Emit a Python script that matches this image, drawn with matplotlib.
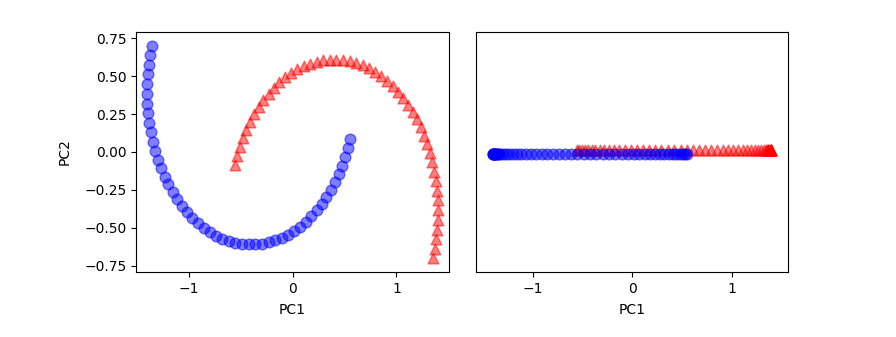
import matplotlib
matplotlib.use('Agg')
import matplotlib.pyplot as plt

# PCA projection of the half-moon data
red_pc1 = [-0.553, -0.531, -0.506, -0.476, -0.444, -0.407, -0.368, -0.325, -0.280, -0.231,
           -0.180, -0.127, -0.071, -0.014, 0.046, 0.106, 0.168, 0.231, 0.294, 0.358,
           0.422, 0.486, 0.550, 0.613, 0.675, 0.736, 0.796, 0.854, 0.910, 0.964,
           1.016, 1.065, 1.111, 1.155, 1.195, 1.232, 1.266, 1.296, 1.323, 1.345,
           1.364, 1.379, 1.390, 1.397, 1.399, 1.398, 1.392, 1.382, 1.369, 1.351]
red_pc2 = [-0.085, -0.024, 0.035, 0.092, 0.147, 0.200, 0.250, 0.298, 0.343, 0.385,
           0.424, 0.459, 0.491, 0.520, 0.544, 0.565, 0.582, 0.594, 0.603, 0.608,
           0.608, 0.605, 0.597, 0.585, 0.570, 0.550, 0.527, 0.499, 0.468, 0.434,
           0.396, 0.355, 0.311, 0.264, 0.214, 0.162, 0.107, 0.050, -0.008, -0.068,
           -0.129, -0.192, -0.255, -0.319, -0.383, -0.447, -0.511, -0.574, -0.637, -0.698]
blue_pc1 = [0.553, 0.531, 0.506, 0.476, 0.444, 0.407, 0.368, 0.325, 0.280, 0.231,
            0.180, 0.127, 0.071, 0.014, -0.046, -0.106, -0.168, -0.231, -0.294, -0.358,
            -0.422, -0.486, -0.550, -0.613, -0.675, -0.736, -0.796, -0.854, -0.910, -0.964,
            -1.016, -1.065, -1.111, -1.155, -1.195, -1.232, -1.266, -1.296, -1.323, -1.345,
            -1.364, -1.379, -1.390, -1.397, -1.399, -1.398, -1.392, -1.382, -1.369, -1.351]
blue_pc2 = [0.085, 0.024, -0.035, -0.092, -0.147, -0.200, -0.250, -0.298, -0.343, -0.385,
            -0.424, -0.459, -0.491, -0.520, -0.544, -0.565, -0.582, -0.594, -0.603, -0.608,
            -0.608, -0.605, -0.597, -0.585, -0.570, -0.550, -0.527, -0.499, -0.468, -0.434,
            -0.396, -0.355, -0.311, -0.264, -0.214, -0.162, -0.107, -0.050, 0.008, 0.068,
            0.129, 0.192, 0.255, 0.319, 0.383, 0.447, 0.511, 0.574, 0.637, 0.698]

# small vertical offsets used to separate the classes in the 1D view
red_offset = [0.02] * len(red_pc1)
blue_offset = [-0.02] * len(blue_pc1)

xticks = [-1, 0, 1]
yticks = [-0.75, -0.5, -0.25, 0.0, 0.25, 0.5, 0.75]

fig = plt.figure(figsize=(8.96, 3.37), dpi=100)
ax0 = fig.add_axes([0.152, 0.193, 0.349, 0.712])
ax1 = fig.add_axes([0.531, 0.193, 0.349, 0.712])

ax0.scatter(red_pc1, red_pc2, color='red', marker='^', alpha=0.5, s=60)
ax0.scatter(blue_pc1, blue_pc2, color='blue', marker='o', alpha=0.5, s=60)
ax0.set_xlim(-1.505, 1.505)
ax0.set_ylim(-0.79, 0.79)
ax0.set_xticks(xticks)
ax0.set_yticks(yticks)
ax0.set_xlabel('PC1', labelpad=5)
ax0.set_ylabel('PC2', labelpad=9)

ax1.scatter(red_pc1, red_offset, color='red', marker='^', alpha=0.5, s=60)
ax1.scatter(blue_pc1, blue_offset, color='blue', marker='o', alpha=0.5, s=60)
ax1.set_xlim(-1.57, 1.57)
ax1.set_ylim([-1, 1])
ax1.set_xticks(xticks)
ax1.set_yticks([])
ax1.set_xlabel('PC1', labelpad=5)

fig.savefig('out.png', dpi=100)
